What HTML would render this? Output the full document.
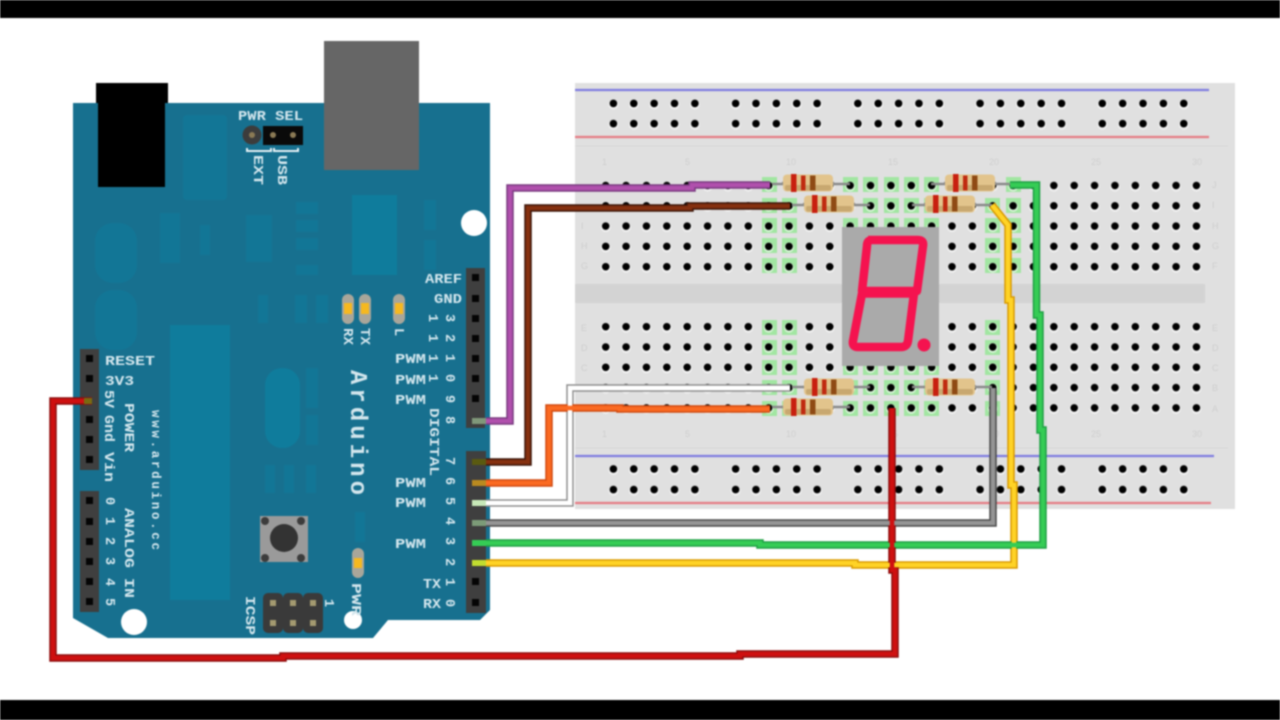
<!DOCTYPE html>
<html><head><meta charset="utf-8"><style>
html,body{margin:0;padding:0;background:#fff;width:1280px;height:720px;overflow:hidden}
svg{display:block;filter:blur(.8px)}
.t{font-family:"Liberation Mono",monospace;font-weight:bold;fill:#d3e6ed;font-size:13.5px}
.b{font-family:"Liberation Sans",sans-serif;fill:#cecece;font-size:9px}
.w{fill:none;stroke-linejoin:miter;stroke-linecap:butt}
</style></head><body>
<svg width="1280" height="720" viewBox="0 0 1280 720" xmlns="http://www.w3.org/2000/svg">
<defs>
<pattern id="h" patternUnits="userSpaceOnUse" x="595.5" y="175.300" width="20.37" height="20.3"><circle cx="10.2" cy="11.2" r="5" fill="#fff" fill-opacity=".55"/><circle cx="10.2" cy="10.2" r="3.8" fill="#000"/></pattern>
<pattern id="h2" patternUnits="userSpaceOnUse" x="595.5" y="316.5" width="20.37" height="20.3"><circle cx="10.2" cy="11.2" r="5" fill="#fff" fill-opacity=".55"/><circle cx="10.2" cy="10.2" r="3.8" fill="#000"/></pattern>
<pattern id="r1" patternUnits="userSpaceOnUse" x="603.2" y="93.2" width="20.37" height="20.2"><circle cx="10.2" cy="11.2" r="5" fill="#fff" fill-opacity=".55"/><circle cx="10.2" cy="10.2" r="3.8" fill="#000"/></pattern>
<pattern id="r2" patternUnits="userSpaceOnUse" x="603.2" y="458.8" width="20.37" height="20.6"><circle cx="10.2" cy="11.2" r="5" fill="#fff" fill-opacity=".55"/><circle cx="10.2" cy="10.2" r="3.8" fill="#000"/></pattern>
<g id="res"><path d="M-26 0H26" stroke="#8a8a8a" stroke-width="2.5"/><rect x="-25" y="-8.5" width="50" height="17" rx="4" fill="#e2c48c"/><rect x="-23" y="2" width="46" height="5.5" rx="2" fill="#c8a870"/><rect x="-17" y="-9" width="5.5" height="18" fill="#c8200f"/><rect x="-7" y="-7.5" width="4.5" height="15" fill="#c02a10"/><rect x="2" y="-7.5" width="5.5" height="15" fill="#8f4a14"/></g>
</defs>
<rect width="1280" height="720" fill="#fff"/>
<rect x="-5" y="-5" width="1290" height="23" fill="#000"/>
<rect x="-5" y="700" width="1290" height="25" fill="#000"/>

<!-- breadboard -->
<rect x="575" y="83" width="660" height="426" fill="#e0e0e0"/>
<rect x="575" y="284" width="630" height="19" fill="#d3d3d3"/>
<path d="M575 146H1228M575 448H1228" stroke="#d6d6d6" stroke-width="1"/>
<path d="M575 90H1209M575 456H1214" stroke="#7f7de0" stroke-width="2.2"/>
<path d="M575 137H1209M575 503H1211" stroke="#e67c84" stroke-width="2.2"/>
<path fill="#a2e6a2" d="M762 177h15v15h-15zM843 177h15v15h-15zM863 177h15v15h-15zM884 177h15v15h-15zM904 177h15v15h-15zM924 177h15v15h-15zM1006 177h15v15h-15zM762 198h15v15h-15zM782 198h15v15h-15zM863 198h15v15h-15zM884 198h15v15h-15zM904 198h15v15h-15zM924 198h15v15h-15zM985 198h15v15h-15zM1006 198h15v15h-15zM762 218h15v15h-15zM782 218h15v15h-15zM843 218h15v15h-15zM863 218h15v15h-15zM884 218h15v15h-15zM904 218h15v15h-15zM924 218h15v15h-15zM985 218h15v15h-15zM1006 218h15v15h-15zM762 238h15v15h-15zM782 238h15v15h-15zM985 238h15v15h-15zM1006 238h15v15h-15zM762 258h15v15h-15zM782 258h15v15h-15zM985 258h15v15h-15zM1006 258h15v15h-15zM762 320h15v15h-15zM782 320h15v15h-15zM985 320h15v15h-15zM762 340h15v15h-15zM782 340h15v15h-15zM985 340h15v15h-15zM762 360h15v15h-15zM782 360h15v15h-15zM843 360h15v15h-15zM863 360h15v15h-15zM884 360h15v15h-15zM904 360h15v15h-15zM924 360h15v15h-15zM985 360h15v15h-15zM762 380h15v15h-15zM782 380h15v15h-15zM843 380h15v15h-15zM863 380h15v15h-15zM884 380h15v15h-15zM904 380h15v15h-15zM924 380h15v15h-15zM985 380h15v15h-15zM762 401h15v15h-15zM782 401h15v15h-15zM843 401h15v15h-15zM863 401h15v15h-15zM884 401h15v15h-15zM904 401h15v15h-15zM924 401h15v15h-15zM985 401h15v15h-15z"/>
<rect x="595.5" y="175.300" width="611" height="101.5" fill="url(#h)"/>
<rect x="595.5" y="316.5" width="611" height="101.5" fill="url(#h2)"/>
<g fill="url(#r1)"><rect x="603.2" y="93.2" width="102" height="40.4"/><rect x="725" y="93.2" width="102" height="40.4"/><rect x="847.2" y="93.2" width="102" height="40.4"/><rect x="969" y="93.2" width="102" height="40.4"/><rect x="1091" y="93.2" width="102" height="40.4"/></g>
<g fill="url(#r2)"><rect x="603.2" y="458.8" width="102" height="41.2"/><rect x="725" y="458.8" width="102" height="41.2"/><rect x="847.2" y="458.8" width="102" height="41.2"/><rect x="969" y="458.8" width="102" height="41.2"/><rect x="1091" y="458.8" width="102" height="41.2"/></g>
<g class="b">
<text x="602" y="165">1</text><text x="685" y="165">5</text><text x="786" y="165">10</text><text x="888" y="165">15</text><text x="989" y="165">20</text><text x="1091" y="165">25</text><text x="1192" y="165">30</text>
<text x="602" y="437">1</text><text x="685" y="437">5</text><text x="786" y="437">10</text><text x="888" y="437">15</text><text x="989" y="437">20</text><text x="1091" y="437">25</text><text x="1192" y="437">30</text>
<text x="581" y="229">I</text><text x="581" y="249">H</text><text x="581" y="269">G</text>
<text x="581" y="331">E</text><text x="581" y="351">D</text><text x="581" y="371">C</text><text x="581" y="391">B</text><text x="581" y="412">A</text>
<text x="1212" y="188">J</text><text x="1212" y="208">I</text><text x="1212" y="229">H</text><text x="1212" y="249">G</text><text x="1212" y="269">F</text>
<text x="1212" y="331">E</text><text x="1212" y="351">D</text><text x="1212" y="371">C</text><text x="1212" y="391">B</text><text x="1212" y="412">A</text>
</g>

<!-- display -->
<rect x="842" y="227" width="97" height="139" fill="#aaaaaa"/>
<path d="M868 240H918Q924 240 923 246L917 291H862L867 246Q867 240 872 240M862 293.500H914L908 341Q907 347 901 347H858Q852 347 853 341Z" fill="none" stroke="#f5134f" stroke-width="8.500" stroke-linejoin="round"/>
<circle cx="924" cy="345" r="6.500" fill="#f5134f"/>

<!-- arduino -->
<path d="M73 103H490V610L480 620H388L373 638H108L73 618Z" fill="#17708f"/>
<g fill="#0f7c9c">
<rect x="170" y="325" width="60" height="275"/>
<g opacity=".55"><rect x="183" y="115" width="44" height="85" rx="4"/><rect x="95" y="223" width="42" height="60" rx="18"/><rect x="95" y="290" width="42" height="60" rx="18"/><rect x="160" y="213" width="20" height="50"/><rect x="200" y="225" width="10" height="30"/><rect x="246" y="215" width="26" height="47"/><rect x="296" y="202" width="22" height="12"/><rect x="296" y="220" width="22" height="12"/><rect x="296" y="238" width="22" height="12"/><rect x="296" y="265" width="22" height="10"/><rect x="424" y="200" width="12" height="30"/><rect x="424" y="240" width="12" height="30"/><rect x="258" y="295" width="10" height="28"/><rect x="295" y="295" width="12" height="28"/><rect x="316" y="295" width="12" height="28"/><rect x="306" y="368" width="12" height="40"/><rect x="306" y="415" width="12" height="30"/><rect x="265" y="465" width="10" height="28"/><rect x="284" y="465" width="10" height="28"/><rect x="306" y="465" width="10" height="28"/><rect x="355" y="512" width="10" height="30"/></g>
<rect x="352" y="195" width="45" height="80"/><rect x="265" y="368" width="35" height="80" rx="17"/>
</g>
<path d="M96 83H168V103H165V187H98V103H96Z" fill="#000"/>
<rect x="324" y="41" width="95" height="129" fill="#666"/>
<circle cx="474" cy="223" r="13" fill="#fff"/><circle cx="134" cy="622" r="13" fill="#fff"/><circle cx="353" cy="620" r="9" fill="#fff"/>

<!-- jumper -->
<circle cx="252" cy="135" r="9.500" fill="#3c3c3c"/><circle cx="252" cy="135" r="3" fill="#8a7a55"/>
<rect x="263" y="126" width="40" height="19" fill="#0a0a0a"/><circle cx="273" cy="135" r="3" fill="#8a7a55"/><circle cx="293" cy="135" r="3" fill="#8a7a55"/>
<path d="M247 148V151H271V148M274 148V151H298V148" fill="none" stroke="#e4f0f4" stroke-width="2"/>

<!-- headers -->
<rect x="466" y="268" width="19" height="160" fill="#3f3f3f"/>
<rect x="466" y="451" width="20" height="162" fill="#3f3f3f"/>
<rect x="80" y="349" width="19" height="121" fill="#3f3f3f"/>
<rect x="80" y="491" width="19" height="121" fill="#3f3f3f"/>
<g fill="#050505">
<path d="M472 274h7v7h-7zM472 295h7v7h-7zM472 315h7v7h-7zM472 335h7v7h-7zM472 355h7v7h-7zM472 375h7v7h-7zM472 395h7v7h-7zM472 578h7v7h-7zM472 599h7v7h-7z"/>
<path d="M86 355h7v7h-7zM86 375h7v7h-7zM86 416h7v7h-7zM86 436h7v7h-7zM86 456h7v7h-7zM86 497h7v7h-7zM86 518h7v7h-7zM86 538h7v7h-7zM86 558h7v7h-7zM86 578h7v7h-7zM86 598h7v7h-7z"/>
</g>

<!-- LEDs -->
<g fill="#a9a69a"><rect x="342" y="294" width="12" height="30" rx="6"/><rect x="359" y="294" width="12" height="30" rx="6"/><rect x="393" y="294" width="12" height="30" rx="6"/><rect x="352" y="548" width="12" height="30" rx="6"/></g>
<g fill="#f6b820"><rect x="344" y="303" width="8" height="11"/><rect x="361" y="303" width="8" height="11"/><rect x="395" y="303" width="8" height="11"/><rect x="354" y="558" width="8" height="10"/></g>

<!-- button -->
<rect x="260" y="516" width="48" height="46" fill="#9a9a9a"/>
<circle cx="284" cy="538" r="14" fill="#333"/>
<g fill="#3c3c3c"><circle cx="265" cy="521" r="4"/><circle cx="301" cy="521" r="4"/><circle cx="265" cy="558" r="4"/><circle cx="301" cy="558" r="4"/></g>
<!-- ICSP -->
<g fill="#3a3a3a"><rect x="263" y="593" width="20" height="40" rx="5"/><rect x="283" y="593" width="20" height="40" rx="5"/><rect x="303" y="593" width="20" height="40" rx="5"/></g>
<g fill="#a39a70"><rect x="270" y="600" width="6" height="6"/><rect x="290" y="600" width="6" height="6"/><rect x="310" y="600" width="6" height="6"/><rect x="270" y="620" width="6" height="6"/><rect x="290" y="620" width="6" height="6"/><rect x="310" y="620" width="6" height="6"/></g>

<!-- labels -->
<g class="t">
<text x="238" y="120" textLength="65" lengthAdjust="spacingAndGlyphs">PWR SEL</text>
<text transform="translate(254,155) rotate(90)" textLength="30" lengthAdjust="spacingAndGlyphs">EXT</text>
<text transform="translate(278,155) rotate(90)" textLength="30" lengthAdjust="spacingAndGlyphs">USB</text>
<text x="425" y="283" textLength="37" lengthAdjust="spacingAndGlyphs">AREF</text>
<text x="434" y="303" textLength="28" lengthAdjust="spacingAndGlyphs">GND</text>
<text x="395" y="363" textLength="31" lengthAdjust="spacingAndGlyphs">PWM</text>
<text x="395" y="384" textLength="31" lengthAdjust="spacingAndGlyphs">PWM</text>
<text x="395" y="404" textLength="31" lengthAdjust="spacingAndGlyphs">PWM</text>
<text x="395" y="487" textLength="31" lengthAdjust="spacingAndGlyphs">PWM</text>
<text x="395" y="507" textLength="31" lengthAdjust="spacingAndGlyphs">PWM</text>
<text x="395" y="548" textLength="31" lengthAdjust="spacingAndGlyphs">PWM</text>
<text x="423" y="588" textLength="18" lengthAdjust="spacingAndGlyphs">TX</text>
<text x="423" y="608" textLength="18" lengthAdjust="spacingAndGlyphs">RX</text>
<text x="105" y="365" textLength="50" lengthAdjust="spacingAndGlyphs">RESET</text>
<text x="105" y="385" textLength="29" lengthAdjust="spacingAndGlyphs">3V3</text>
<g text-anchor="middle">
<text transform="translate(429,318) rotate(90)">1</text><text transform="translate(446,318) rotate(90)">3</text>
<text transform="translate(429,338) rotate(90)">1</text><text transform="translate(446,338) rotate(90)">2</text>
<text transform="translate(429,358) rotate(90)">1</text><text transform="translate(446,358) rotate(90)">1</text>
<text transform="translate(429,378) rotate(90)">1</text><text transform="translate(446,378) rotate(90)">0</text>
<text transform="translate(446,399) rotate(90)">9</text><text transform="translate(446,420) rotate(90)">8</text>
<text transform="translate(446,461) rotate(90)">7</text><text transform="translate(446,481) rotate(90)">6</text>
<text transform="translate(446,501) rotate(90)">5</text><text transform="translate(446,521) rotate(90)">4</text>
<text transform="translate(446,541) rotate(90)">3</text><text transform="translate(446,562) rotate(90)">2</text>
<text transform="translate(446,582) rotate(90)">1</text><text transform="translate(446,603) rotate(90)">0</text>
<text transform="translate(106,501) rotate(90)">0</text><text transform="translate(106,521) rotate(90)">1</text>
<text transform="translate(106,541) rotate(90)">2</text><text transform="translate(106,561) rotate(90)">3</text>
<text transform="translate(106,582) rotate(90)">4</text><text transform="translate(106,602) rotate(90)">5</text>
</g>
<text transform="translate(344,328) rotate(90)" textLength="17" lengthAdjust="spacingAndGlyphs">RX</text>
<text transform="translate(361,328) rotate(90)" textLength="17" lengthAdjust="spacingAndGlyphs">TX</text>
<text transform="translate(395,328) rotate(90)">L</text>
<text transform="translate(430,408) rotate(90)" textLength="68" lengthAdjust="spacingAndGlyphs">DIGITAL</text>
<text transform="translate(351,370) rotate(90)" textLength="125" style="font-size:24px">Arduino</text>
<text transform="translate(152,410) rotate(90)" textLength="140" style="font-size:12.5px">www.arduino.cc</text>
<text transform="translate(125,403) rotate(90)" textLength="49" lengthAdjust="spacingAndGlyphs">POWER</text>
<text transform="translate(125,508) rotate(90)" textLength="90" lengthAdjust="spacingAndGlyphs">ANALOG IN</text>
<text transform="translate(105,390) rotate(90)" textLength="18" lengthAdjust="spacingAndGlyphs">5V</text>
<text transform="translate(105,415) rotate(90)" textLength="27" lengthAdjust="spacingAndGlyphs">Gnd</text>
<text transform="translate(105,452) rotate(90)" textLength="30" lengthAdjust="spacingAndGlyphs">Vin</text>
<text transform="translate(246,596) rotate(90)" textLength="39" lengthAdjust="spacingAndGlyphs">ICSP</text>
<text transform="translate(325,603) rotate(90)" text-anchor="middle">1</text>
<text transform="translate(352,583) rotate(90)" textLength="33" lengthAdjust="spacingAndGlyphs">PWR</text>
</g>

<!-- resistors -->
<path d="M772 184H850M792 205H870M931 184H1010M912 205H992M792 387H870M772 407H850M912 387H992" stroke="#8a8a8a" stroke-width="2.500" fill="none"/>
<use href="#res" x="808" y="183"/><use href="#res" x="829" y="204"/><use href="#res" x="970" y="183"/><use href="#res" x="950" y="204"/><use href="#res" x="829" y="387"/><use href="#res" x="808" y="407"/><use href="#res" x="950" y="387"/>

<!-- wires -->
<g class="w">
<g stroke-width="7.500">
<path stroke="#4a4a4a" d="M486 523H993V388"/>
<path stroke="#8f8f8f" d="M486 503H570V388H790"/>
<path stroke="#d99a00" d="M486 563H855V565H1014V485H1011V300H1008V225L992 205"/>
<path stroke="#1fa045" d="M486 543H760V545H1043V430H1040V315H1036.500V185H1010"/>
<path stroke="#d04a10" d="M486 483H549V408H620V409H770"/>
<path stroke="#3c1508" d="M486 462H528V208H690V206H790"/>
<path stroke="#7a3a80" d="M486 421H510V188H692V185H770"/>
<path stroke="#8e0c0c" d="M92 401H53V658H283V656H740V654H895V570H892V408"/>
</g>
<g stroke-width="4.500">
<path stroke="#949494" d="M486 523H993V388"/>
<path stroke="#fff" d="M486 503H570V388H790"/>
<path stroke="#ffd326" d="M486 563H855V565H1014V485H1011V300H1008V225L992 205"/>
<path stroke="#35cc55" d="M486 543H760V545H1043V430H1040V315H1036.500V185H1010"/>
<path stroke="#fb6a22" d="M486 483H549V408H620V409H770"/>
<path stroke="#84300f" d="M486 462H528V208H690V206H790"/>
<path stroke="#b050ad" d="M486 421H510V188H692V185H770"/>
<path stroke="#cf1010" d="M92 401H53V658H283V656H740V654H895V570H892V408"/>
</g>
<g stroke-width="6">
<path stroke="#7c9b78" d="M472 523H486"/>
<path stroke="#c7e8b8" d="M472 503H486"/>
<path stroke="#c0dc30" d="M472 563H486"/>
<path stroke="#35cc55" d="M472 543H486"/>
<path stroke="#b98a20" d="M472 483H486"/>
<path stroke="#5a5a10" d="M472 462H486"/>
<path stroke="#80987a" d="M472 421H486"/>
<path stroke="#7a6a10" d="M84 401H92"/>
</g>
</g>
</svg>
</body></html>
